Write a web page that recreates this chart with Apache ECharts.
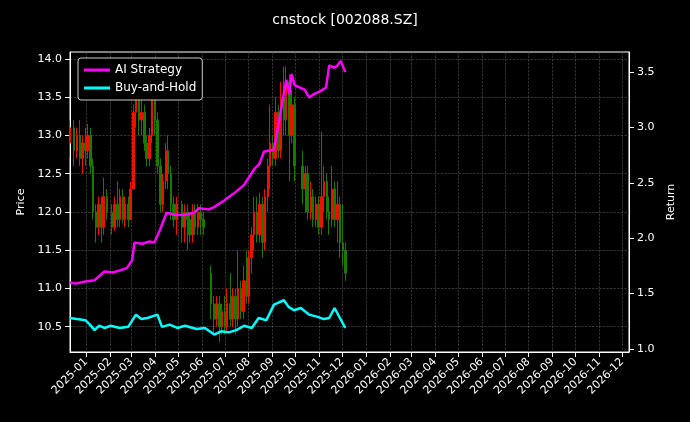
<!DOCTYPE html>
<html>
<head>
<meta charset="utf-8">
<script src="https://cdn.jsdelivr.net/npm/echarts@6/dist/echarts.min.js"></script>
<style>html,body{margin:0;background:#000;}#c{width:690px;height:422px;}</style>
</head>
<body>
<div id="c"></div>
<script>
// candles: [date, open, close, low, high]
var candles = [
  ['2024-12-11',12.9,13.1,12.7,13.2],['2024-12-16',13.1,12.8,12.6,13.2],['2024-12-20',12.8,13.0,12.7,13.1],
  ['2024-12-24',13.0,12.7,12.6,13.2],['2024-12-27',12.7,12.9,12.5,13.0],['2024-12-31',12.9,12.8,12.6,13.1],
  ['2025-01-03',12.8,13.0,12.7,13.15],['2025-01-07',13.0,12.6,12.5,13.1],['2025-01-10',12.6,12.0,11.9,12.7],
  ['2025-01-14',12.0,11.8,11.6,12.1],['2025-01-17',11.8,12.1,11.7,12.2],['2025-01-21',12.1,11.8,11.6,12.2],
  ['2025-01-24',11.8,12.2,11.7,12.45],['2025-01-28',12.2,12.0,11.9,12.3],['2025-02-04',12.0,11.8,11.7,12.1],
  ['2025-02-07',11.8,12.1,11.75,12.2],['2025-02-11',12.1,11.9,11.8,12.4],['2025-02-14',11.9,12.2,11.8,12.3],
  ['2025-02-18',12.2,11.9,11.85,12.3],['2025-02-21',11.9,12.1,11.8,12.2],['2025-02-25',12.1,11.9,11.8,12.2],
  ['2025-02-28',11.9,12.3,11.9,12.4],['2025-03-04',12.3,13.3,12.3,13.4],['2025-03-07',13.3,13.6,13.1,13.9],
  ['2025-03-11',13.6,13.2,13.0,13.7],['2025-03-14',13.2,13.3,13.0,13.5],['2025-03-18',13.3,12.9,12.8,13.4],
  ['2025-03-21',12.9,12.7,12.6,13.0],['2025-03-25',12.7,13.0,12.6,13.1],['2025-03-28',13.0,13.7,12.9,13.8],
  ['2025-04-01',13.7,13.2,13.0,13.8],['2025-04-04',13.2,12.6,12.5,13.3],['2025-04-08',12.6,12.1,12.0,12.7],
  ['2025-04-11',12.1,12.4,12.0,12.5],['2025-04-15',12.4,12.8,12.3,12.9],['2025-04-18',12.8,12.5,12.3,13.0],
  ['2025-04-22',12.5,12.1,11.9,12.6],['2025-04-25',12.1,11.9,11.8,12.2],['2025-04-29',11.9,12.1,11.7,12.2],
  ['2025-05-06',12.1,11.8,11.6,12.15],['2025-05-09',11.8,12.0,11.6,12.1],['2025-05-13',12.0,11.9,11.5,12.1],
  ['2025-05-16',11.9,11.7,11.6,12.0],['2025-05-20',11.7,12.0,11.6,12.1],['2025-05-23',12.0,11.8,11.7,12.1],
  ['2025-05-27',11.8,12.0,11.7,12.1],['2025-05-30',12.0,11.9,11.7,12.1],['2025-06-03',11.9,11.8,11.7,12.0],
  ['2025-06-13',11.2,10.8,10.6,11.3],['2025-06-17',10.8,10.6,10.4,10.9],['2025-06-20',10.6,10.8,10.5,10.9],
  ['2025-06-24',10.8,10.5,10.3,10.9],['2025-06-27',10.5,10.7,10.4,10.8],['2025-07-01',10.7,10.5,10.4,10.9],
  ['2025-07-04',10.5,10.8,10.45,11.0],['2025-07-08',10.8,10.6,10.5,11.2],['2025-07-11',10.6,10.9,10.5,11.0],
  ['2025-07-15',10.9,10.6,10.4,11.0],['2025-07-18',10.6,11.0,10.5,11.5],['2025-07-22',11.0,10.7,10.6,11.1],
  ['2025-07-25',10.7,11.1,10.6,11.3],['2025-07-29',11.1,10.9,10.8,11.5],['2025-08-01',10.9,11.4,10.8,11.5],
  ['2025-08-05',11.4,11.7,11.2,11.8],['2025-08-08',11.7,12.0,11.5,12.2],['2025-08-12',12.0,11.7,11.6,12.2],
  ['2025-08-15',11.7,12.1,11.6,12.25],['2025-08-19',12.1,11.6,11.4,12.2],['2025-08-22',11.6,12.2,11.5,12.3],
  ['2025-08-26',12.2,12.6,12.0,12.7],['2025-08-29',12.6,12.9,12.3,13.4],['2025-09-02',12.9,12.7,12.6,13.0],
  ['2025-09-05',12.7,13.3,12.6,13.5],['2025-09-09',13.3,12.8,12.7,13.4],['2025-09-12',12.8,13.5,12.7,13.7],
  ['2025-09-16',13.5,13.2,13.0,13.9],['2025-09-19',13.2,13.7,13.0,13.9],['2025-09-23',13.7,13.0,12.4,13.8],
  ['2025-09-26',13.0,13.4,12.9,13.6],['2025-09-30',13.4,12.6,12.4,13.5],['2025-10-10',12.6,12.3,12.1,12.8],
  ['2025-10-14',12.3,12.5,12.0,12.6],['2025-10-17',12.5,12.0,11.9,12.6],['2025-10-21',12.0,12.2,11.9,12.4],
  ['2025-10-24',12.2,11.9,11.8,12.3],['2025-10-28',11.9,12.1,11.8,12.2],['2025-10-31',12.1,11.8,11.7,12.2],
  ['2025-11-04',11.8,12.2,11.7,13.05],['2025-11-07',12.2,12.4,12.0,12.6],['2025-11-11',12.4,12.0,11.9,12.5],
  ['2025-11-14',12.0,11.9,11.7,12.2],['2025-11-18',11.9,12.3,11.8,12.6],['2025-11-21',12.3,11.9,11.8,12.4],
  ['2025-11-25',11.9,12.1,11.6,12.4],['2025-11-28',12.1,11.6,11.4,12.2],['2025-12-02',11.6,11.5,11.3,12.1],
  ['2025-12-05',11.5,11.2,11.1,11.6]
];
var aiDates = ['2024-12-11','2024-12-18','2024-12-31','2025-01-12','2025-01-25','2025-02-05','2025-02-14','2025-02-23',
  '2025-03-02','2025-03-05','2025-03-15','2025-03-25','2025-03-31','2025-04-07','2025-04-16','2025-04-28','2025-05-09',
  '2025-05-22','2025-05-28','2025-06-10','2025-06-17','2025-06-30','2025-07-12','2025-07-26','2025-08-08','2025-08-15',
  '2025-08-21','2025-09-03','2025-09-10','2025-09-19','2025-09-23','2025-09-26','2025-09-30','2025-10-13','2025-10-19',
  '2025-10-25','2025-11-01','2025-11-10','2025-11-14','2025-11-20','2025-11-24','2025-11-29','2025-12-05'];
var aiValues = [1.60,1.59,1.61,1.62,1.70,1.69,1.71,1.73,1.80,1.96,1.95,1.97,1.96,2.07,2.23,2.21,2.21,
  2.23,2.27,2.26,2.28,2.34,2.40,2.48,2.62,2.67,2.78,2.80,3.07,3.43,3.30,3.48,3.38,3.34,3.27,
  3.30,3.32,3.36,3.56,3.54,3.55,3.60,3.50];
var bhDates = ['2024-12-11','2024-12-20','2024-12-31','2025-01-06','2025-01-12','2025-01-18','2025-01-25','2025-02-02',
  '2025-02-14','2025-02-25','2025-03-07','2025-03-14','2025-03-22','2025-04-04','2025-04-10','2025-04-20','2025-04-30',
  '2025-05-10','2025-05-25','2025-06-05','2025-06-17','2025-06-26','2025-07-06','2025-07-16','2025-07-26','2025-08-05',
  '2025-08-14','2025-08-24','2025-09-03','2025-09-16','2025-09-22','2025-09-29','2025-10-08','2025-10-19','2025-10-30',
  '2025-11-07','2025-11-14','2025-11-21','2025-11-28','2025-12-05'];
var bhValues = [1.28,1.27,1.26,1.22,1.17,1.21,1.19,1.21,1.19,1.20,1.31,1.27,1.28,1.31,1.20,1.22,1.19,
  1.21,1.18,1.19,1.13,1.16,1.15,1.17,1.21,1.19,1.28,1.26,1.40,1.44,1.38,1.35,1.37,1.31,1.29,
  1.27,1.28,1.37,1.28,1.19];

function pairs(d, v) { return d.map(function (x, i) { return [x, v[i]]; }); }

var priceTicks = [10.5, 11.0, 11.5, 12.0, 12.5, 13.0, 13.5, 14.0];
var returnTicks = [1.0, 1.5, 2.0, 2.5, 3.0, 3.5];

var chart = echarts.init(document.getElementById('c'));
var txt = {color: '#fff', fontFamily: 'DejaVu Sans', fontSize: 11};
var gridLine = {show: true, lineStyle: {color: '#555', type: 'dashed', width: 0.6}};
chart.setOption({
  backgroundColor: '#000',
  animation: false,
  title: {text: 'cnstock [002088.SZ]', left: 'center', top: 8,
    textStyle: {color: '#fff', fontFamily: 'DejaVu Sans', fontSize: 14, fontWeight: 'normal'}},
  legend: {left: 78, top: 58, orient: 'vertical', itemGap: 6, itemWidth: 26, itemHeight: 3,
    backgroundColor: '#000', borderColor: '#ccc', borderWidth: 1, borderRadius: 3, padding: [6, 6],
    textStyle: {color: '#fff', fontFamily: 'DejaVu Sans', fontSize: 12},
    data: [{name: 'AI Strategy', icon: 'rect'}, {name: 'Buy-and-Hold', icon: 'rect'}]},
  grid: {left: 70, right: 61, top: 52, bottom: 70, show: true, borderColor: '#fff', borderWidth: 1},
  xAxis: {type: 'time', min: '2024-12-11', max: '2026-12-10', splitNumber: 24, minInterval: 28 * 86400000,
    axisLine: {lineStyle: {color: '#fff'}}, axisTick: {show: true, lineStyle: {color: '#fff'}},
    axisLabel: Object.assign({rotate: 45, hideOverlap: false, showMinLabel: false, showMaxLabel: false,
      formatter: function (v) { return echarts.time.format(v, '{yyyy}-{MM}', false); }}, txt),
    splitLine: gridLine},
  yAxis: [
    {type: 'value', name: 'Price', nameLocation: 'middle', nameGap: 42, nameTextStyle: txt,
      min: 10.17, max: 14.09,
      axisLine: {show: true, lineStyle: {color: '#fff'}},
      axisTick: {show: true, customValues: priceTicks},
      axisLabel: Object.assign({customValues: priceTicks, formatter: function (v) { return v.toFixed(1); }}, txt),
      splitLine: gridLine},
    {type: 'value', name: 'Return', nameLocation: 'middle', nameGap: 30, nameTextStyle: txt,
      min: 0.973, max: 3.68,
      axisLine: {show: true, lineStyle: {color: '#fff'}},
      axisTick: {show: true, customValues: returnTicks},
      axisLabel: Object.assign({customValues: returnTicks, formatter: function (v) { return v.toFixed(1); }}, txt),
      splitLine: {show: false}}
  ],
  series: [
    {type: 'candlestick', name: 'Price', yAxisIndex: 0, barWidth: 2, data: candles,
      itemStyle: {color: '#ee1100', color0: '#1a7a00', borderColor: '#ee1100', borderColor0: '#1a7a00', borderWidth: 1}},
    {type: 'line', name: 'AI Strategy', yAxisIndex: 1, data: pairs(aiDates, aiValues), showSymbol: false,
      lineStyle: {color: '#ff00ff', width: 2.5}, itemStyle: {color: '#ff00ff'}},
    {type: 'line', name: 'Buy-and-Hold', yAxisIndex: 1, data: pairs(bhDates, bhValues), showSymbol: false,
      lineStyle: {color: '#00ffff', width: 2.5}, itemStyle: {color: '#00ffff'}}
  ]
});
</script>
</body>
</html>
